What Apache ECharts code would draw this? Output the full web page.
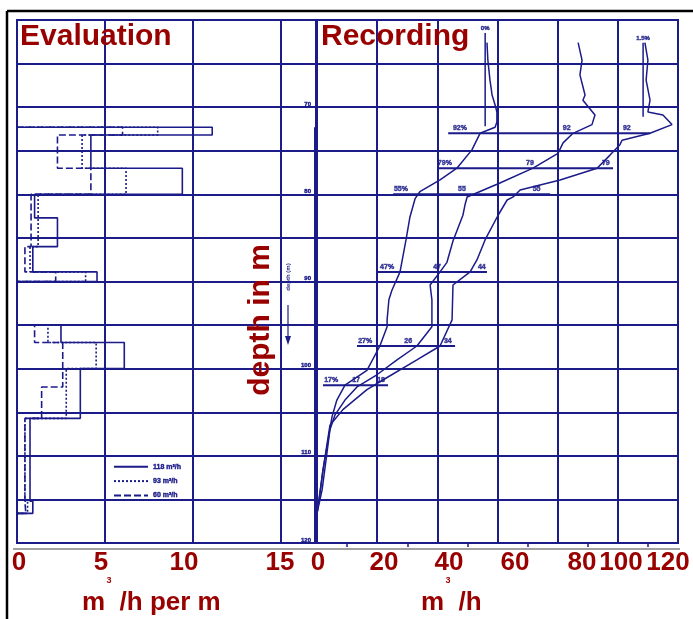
<!DOCTYPE html>
<html>
<head>
<meta charset="utf-8">
<script src="https://cdn.jsdelivr.net/npm/echarts@6/dist/echarts.min.js"></script>
<style>
  html, body { margin: 0; padding: 0; background: #ffffff; }
  #chart { width: 693px; height: 619px; }
</style>
</head>
<body>
<div id="chart"></div>
<script>
// ---------- Evaluation panel: inflow per metre of screen (m3/h per m) ----------
// depth intervals (m), shared by the three pumping rates
const intervalTop    = [72.3, 73.2, 77.0, 80.0, 82.7, 86.0, 88.9, 95.0, 97.0, 100.0, 102.1, 105.7, 115.2];
const intervalBottom = [73.2, 77.0, 80.0, 82.7, 86.0, 88.9, 90.0, 97.0, 100.0, 102.1, 105.7, 115.2, 116.6];
const inflow118 = [11.1, 4.2, 9.4, 1.0, 2.3, 0.9, 4.55, 2.5, 6.1, 3.6, 3.6, 0.74, 0.9];
const inflow93  = [8.0, 3.7, 6.2, 1.2, 1.2, 0.74, 3.9, 1.76, 4.5, 2.8, 2.8, 0.45, 0.6];
const inflow60  = [6.0, 2.3, 4.2, 0.8, 0.8, 0.45, 2.2, 1.0, 2.6, 2.6, 1.4, 0.45, 0.5];
const rateNames = ['118 m³/h', '93 m³/h', '60 m³/h'];

// ---------- Recording panel: cumulative flow (m3/h) versus depth ----------
const curveADepth = [62.6, 64.6, 66.9, 68.6, 69.75, 70.55, 71.7, 72.3, 73.0, 74.9, 77.0, 78.35, 79.7, 80.5, 82.6, 85.2, 88.9, 91.0, 92.1, 94.4, 95.2, 97.4, 100.2, 101.9, 103.6, 105.5, 108.2, 111.6, 115.1, 116.6];
const curveAFlow  = [56.5, 56.8, 57.5, 58.2, 59.2, 59.8, 59.8, 59.2, 54.2, 51.5, 46.5, 40.9, 34.2, 32.6, 30.9, 29.6, 27.6, 24.9, 23.9, 23.3, 23.3, 20.9, 16.6, 9.3, 6.6, 5.0, 3.7, 2.0, 0.7, 0];
const curveBDepth = [62.6, 64.6, 66.3, 68.6, 69.2, 70.9, 72.0, 73.0, 74.1, 75.3, 77.0, 78.7, 80.3, 81.2, 82.4, 85.35, 87.8, 88.9, 90.4, 92.1, 95.2, 97.4, 99.0, 100.7, 102.1, 103.6, 105.3, 107.0, 110.5, 113.9, 116.6];
const curveBFlow  = [86.8, 88.1, 87.4, 89.1, 88.4, 92.4, 91.4, 85.1, 81.8, 80.1, 71.8, 60.8, 49.9, 49.2, 48.5, 45.2, 43.2, 40.9, 37.6, 38.2, 38.2, 33.2, 26.6, 19.9, 13.3, 9.3, 6.0, 4.3, 3.0, 1.7, 0];
const curveCDepth = [62.6, 64.6, 66.9, 69.2, 70.55, 70.9, 72.0, 73.0, 73.8, 74.3, 75.5, 77.0, 78.35, 79.5, 80.3, 80.65, 82.4, 85.2, 87.5, 88.9, 90.4, 94.4, 97.4, 99.0, 101.3, 102.4, 104.7, 106.5, 111.6, 116.6];
const curveCFlow  = [109.0, 110.0, 109.4, 110.7, 110.0, 115.0, 118.0, 110.7, 101.4, 100.7, 97.4, 93.1, 80.8, 67.5, 65.2, 63.2, 60.2, 55.9, 53.2, 50.9, 45.2, 44.9, 40.9, 33.2, 21.9, 16.6, 8.6, 4.3, 2.0, 0];

// reference verticals above the screen: flow share 0 % and 1.5 %
const refLineFlow   = [55.9, 108.4];
const refLineTop    = [61.5, 62.6];
const refLineBottom = [72.2, 71.1];
const refLineText   = ['0%', '1.5%'];

// horizontal read-off bars with the flow shares written on them
const barDepth = [73.0, 77.0, 80.0, 88.9, 97.4, 101.9];
const barFrom  = [43.6, 39.9, 25.3, 20.0, 13.3, 2.0];
const barTo    = [110.7, 98.4, 77.5, 56.5, 45.9, 23.6];
const barText  = [
  ['92%', '92', '92'],
  ['79%', '79', '79'],
  ['55%', '55', '55'],
  ['47%', '47', '44'],
  ['27%', '26', '34'],
  ['17%', '17', '18']
];
const barTextFlow = [
  [47.5, 83.0, 103.0],
  [42.5, 70.8, 96.0],
  [27.9, 48.2, 73.0],
  [23.3, 39.9, 54.8],
  [16.0, 30.3, 43.5],
  [4.7, 13.0, 21.3]
];

// bottom scale text
const evalTickLabels = ['0', '5', '10', '15'];
const recTickLabels  = ['0', '20', '40', '60', '80', '100', '120'];

// ---------- styling ----------
const NAVY = '#1b1b8a';
const RED = '#990000';
const FONT = '"Liberation Sans", Arial, sans-serif';

// layout of the bottom scale text (pixel centres)
const evalTickX = [19, 101, 184, 280];
const recTickX  = [318, 384, 449, 515, 582, 621, 668];

function stepPath(values) {
  const pts = [[0, intervalTop[0]]];
  for (let i = 0; i < values.length; i++) {
    if (i > 0 && intervalTop[i] !== intervalBottom[i - 1]) {
      pts.push([0, intervalBottom[i - 1]]);
      pts.push([0, intervalTop[i]]);
    }
    pts.push([values[i], intervalTop[i]]);
    pts.push([values[i], intervalBottom[i]]);
  }
  pts.push([0, intervalBottom[intervalBottom.length - 1]]);
  return pts;
}

function zip(flow, depth) {
  return flow.map((f, i) => [f, depth[i]]);
}

const series = [];

// evaluation step profiles
const stepStyles = [
  { type: 'solid', width: 1.6 },
  { type: [2, 2], width: 1.6 },
  { type: [7, 3], width: 1.6 }
];
[inflow118, inflow93, inflow60].forEach((vals, k) => {
  series.push({
    name: rateNames[k],
    type: 'line',
    xAxisIndex: 0, yAxisIndex: 0,
    data: stepPath(vals),
    symbol: 'none',
    silent: true,
    lineStyle: Object.assign({ color: NAVY }, stepStyles[k]),
    itemStyle: { color: NAVY },
    z: 5
  });
});

// depth scale bar of the original log
series.push({
  type: 'line', xAxisIndex: 0, yAxisIndex: 0,
  data: [[17, 72.3], [17, 120]],
  symbol: 'none', silent: true,
  lineStyle: { color: NAVY, width: 4 }, z: 6
});

// recording curves
[[curveAFlow, curveADepth], [curveBFlow, curveBDepth], [curveCFlow, curveCDepth]].forEach(([f, d]) => {
  series.push({
    type: 'line', xAxisIndex: 1, yAxisIndex: 1,
    data: zip(f, d), symbol: 'none', silent: true,
    lineStyle: { color: NAVY, width: 1.5 }, z: 5
  });
});

// small annotation text style (heavy, like the inked original)
const smallLabel = (size) => ({
  show: true, position: 'top', distance: 1, formatter: p => p.name,
  fontSize: size, fontWeight: 'bold', color: NAVY, fontFamily: FONT,
  textBorderColor: NAVY, textBorderWidth: 0.5
});

// reference verticals
refLineFlow.forEach((f, i) => {
  series.push({
    type: 'line', xAxisIndex: 1, yAxisIndex: 1,
    data: [[f, refLineTop[i]], [f, refLineBottom[i]]],
    symbol: 'none', silent: true,
    lineStyle: { color: NAVY, width: 1.5 }, z: 5
  });
});
series.push({
  type: 'scatter', xAxisIndex: 1, yAxisIndex: 1, silent: true,
  symbolSize: 1, itemStyle: { color: 'rgba(0,0,0,0)' },
  data: refLineFlow.map((f, i) => ({ value: [f, refLineTop[i]], name: refLineText[i] })),
  label: smallLabel(6),
  z: 7
});

// read-off bars
barDepth.forEach((d, i) => {
  series.push({
    type: 'line', xAxisIndex: 1, yAxisIndex: 1,
    data: [[barFrom[i], d], [barTo[i], d]],
    symbol: 'none', silent: true,
    lineStyle: { color: NAVY, width: 2 }, z: 5
  });
});
const barLabelData = [];
barDepth.forEach((d, i) => {
  barText[i].forEach((t, j) => {
    barLabelData.push({ value: [barTextFlow[i][j], d], name: t });
  });
});
series.push({
  type: 'scatter', xAxisIndex: 1, yAxisIndex: 1, silent: true,
  symbolSize: 1, itemStyle: { color: 'rgba(0,0,0,0)' },
  data: barLabelData,
  label: smallLabel(7),
  z: 7
});

const gridLine = { lineStyle: { color: NAVY, width: 2 } };

const option = {
  animation: false,
  backgroundColor: '#ffffff',
  grid: [
    { left: 17, top: 20, width: 299, height: 523, show: true, borderColor: NAVY, borderWidth: 2 },
    { left: 317, top: 20, width: 361, height: 523, show: true, borderColor: NAVY, borderWidth: 2 }
  ],
  xAxis: [
    { gridIndex: 0, type: 'value', min: 0, max: 17, interval: 5,
      axisLine: { show: false }, axisTick: { show: false }, axisLabel: { show: false },
      splitLine: gridLine },
    { gridIndex: 1, type: 'value', min: 0, max: 120, interval: 20,
      axisLine: { show: false }, axisTick: { show: false }, axisLabel: { show: false },
      minorTick: { show: true, splitNumber: 2, length: 4, lineStyle: { color: NAVY, width: 1.5 } },
      splitLine: gridLine }
  ],
  yAxis: [
    { gridIndex: 0, type: 'value', inverse: true, min: 60, max: 120, interval: 5,
      axisLine: { show: false }, axisTick: { show: false }, axisLabel: { show: false },
      splitLine: gridLine },
    { gridIndex: 1, type: 'value', inverse: true, min: 60, max: 120, interval: 5,
      axisLine: { show: false }, axisTick: { show: false },
      axisLabel: { show: true, margin: 6, fontSize: 6, fontWeight: 'bold', color: NAVY,
                   fontFamily: FONT, verticalAlign: 'bottom',
                   textBorderColor: NAVY, textBorderWidth: 0.4,
                   formatter: v => (v >= 70 && v % 10 === 0) ? String(v) : '' },
      splitLine: gridLine }
  ],
  legend: {
    data: rateNames, orient: 'vertical', left: 108, top: 458,
    itemWidth: 34, itemHeight: 6, itemGap: 7, selectedMode: false,
    itemStyle: { opacity: 0 },
    textStyle: { fontSize: 7, fontWeight: 'bold', color: NAVY, fontFamily: FONT,
                 textBorderColor: NAVY, textBorderWidth: 0.4 }
  },
  series: series,
  graphic: []
};

const g = option.graphic;
// outer frame
g.push({ type: 'line', shape: { x1: 7, y1: 11, x2: 693, y2: 11 }, style: { stroke: '#000', lineWidth: 2.5 }, z: 100 });
g.push({ type: 'line', shape: { x1: 7, y1: 11, x2: 7, y2: 619 }, style: { stroke: '#000', lineWidth: 2.5 }, z: 100 });
// bottom scale baseline
g.push({ type: 'line', shape: { x1: 13, y1: 549, x2: 680, y2: 549 }, style: { stroke: '#808080', lineWidth: 1.5 }, z: 100 });

const bigText = (text, x, y, size, extra) => Object.assign({
  type: 'text', x: x, y: y, z: 110,
  style: Object.assign({ text: text, fill: RED, font: 'bold ' + size + 'px ' + FONT,
                         textAlign: 'left', textVerticalAlign: 'top' }, extra || {})
});

g.push(bigText('Evaluation', 20, 22, 30));
g.push(bigText('Recording', 321, 22, 30));
evalTickLabels.forEach((t, i) => g.push(bigText(t, evalTickX[i], 550, 26, { textAlign: 'center' })));
recTickLabels.forEach((t, i) => g.push(bigText(t, recTickX[i], 550, 26, { textAlign: 'center' })));
g.push(bigText('m  /h per m', 82, 590, 26));
g.push(bigText('m  /h', 421, 590, 26));
g.push(bigText('3', 109, 576, 9, { textAlign: 'center' }));
g.push(bigText('3', 448, 576, 9, { textAlign: 'center' }));
g.push({ type: 'text', x: 261, y: 320, rotation: Math.PI / 2, z: 110,
         style: { text: 'depth in m', fill: RED, font: 'bold 30px ' + FONT,
                  textAlign: 'center', textVerticalAlign: 'middle' } });
// small depth caption with downward arrow of the original log
g.push({ type: 'text', x: 288, y: 277, rotation: Math.PI / 2, z: 110,
         style: { text: 'depth (m)', fill: NAVY, font: 'bold 6px ' + FONT,
                  textAlign: 'center', textVerticalAlign: 'middle' } });
g.push({ type: 'line', shape: { x1: 288, y1: 305, x2: 288, y2: 340 }, style: { stroke: NAVY, lineWidth: 1.2 }, z: 110 });
g.push({ type: 'polygon', shape: { points: [[285, 336], [291, 336], [288, 345]] }, style: { fill: NAVY }, z: 110 });

const chart = echarts.init(document.getElementById('chart'));
chart.setOption(option);
</script>
</body>
</html>
